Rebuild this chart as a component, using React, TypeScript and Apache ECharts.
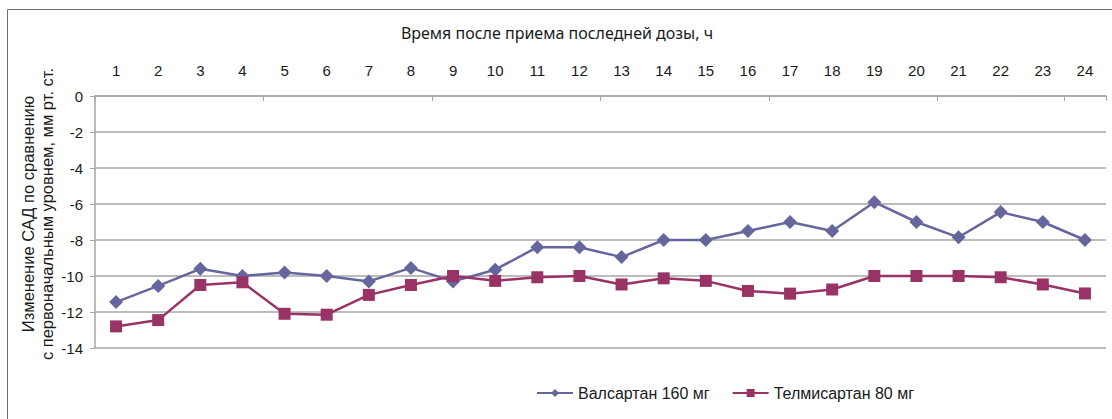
import React, { useEffect, useRef } from "react";
import * as echarts from "echarts";

const hours = ["1","2","3","4","5","6","7","8","9","10","11","12","13","14","15","16","17","18","19","20","21","22","23","24"];
const valsartan = [-11.45,-10.55,-9.6,-10.0,-9.8,-10.0,-10.3,-9.55,-10.3,-9.65,-8.4,-8.4,-8.95,-8.0,-8.0,-7.5,-7.0,-7.5,-5.9,-7.0,-7.85,-6.45,-7.0,-8.0];
const telmisartan = [-12.8,-12.45,-10.5,-10.35,-12.1,-12.15,-11.05,-10.5,-10.0,-10.27,-10.07,-10.0,-10.47,-10.13,-10.27,-10.83,-10.98,-10.75,-10.0,-10.0,-10.0,-10.07,-10.47,-10.97];
const seriesNames = ["Валсартан 160 мг", "Телмисартан 80 мг"];
const xTitle = "Время после приема последней дозы, ч";
const yTitle = "Изменение САД по сравнению\nс первоначальным уровнем, мм рт. ст.";

export default function App() {
  const ref = useRef<HTMLDivElement>(null);
  useEffect(() => {
    if (!ref.current) return;
    const chart = echarts.init(ref.current, null, { renderer: "svg" });
    const tickFont = "Liberation Sans, Arial, sans-serif";
    chart.setOption({
      animation: false,
      backgroundColor: "#ffffff",
      graphic: [
        {
          type: "rect",
          shape: { x: 7.5, y: 9.5, width: 1120, height: 430 },
          style: { fill: "none", stroke: "#707070", lineWidth: 1 },
          silent: true,
        },
        {
          type: "text",
          x: 557,
          y: 33,
          style: {
            text: xTitle,
            fontFamily: "Noto Sans, Open Sans, sans-serif",
            fontSize: 16,
            fill: "#1a1a1a",
            align: "center",
            verticalAlign: "middle",
          },
        },
        {
          type: "text",
          x: 37.5,
          y: 214,
          rotation: Math.PI / 2,
          style: {
            text: yTitle,
            fontFamily: tickFont,
            fontSize: 16.5,
            lineHeight: 19,
            fill: "#1a1a1a",
            align: "center",
            verticalAlign: "middle",
          },
        },
      ],
      legend: {
        left: 531,
        top: 380,
        itemWidth: 36,
        itemHeight: 10,
        itemGap: 22,
        textStyle: { fontFamily: tickFont, fontSize: 16, color: "#1a1a1a" },
        data: seriesNames,
      },
      grid: { left: 95, right: 6, top: 96, bottom: 71, containLabel: false },
      xAxis: {
        type: "category",
        position: "top",
        data: hours,
        boundaryGap: true,
        axisLine: { show: true, lineStyle: { color: "#a6a6a6", width: 1.5 } },
        axisTick: { show: true, inside: true, interval: 3, length: 5, lineStyle: { color: "#a6a6a6" } },
        axisLabel: { interval: 0, margin: 18, fontFamily: tickFont, fontSize: 15, color: "#1a1a1a" },
        splitLine: { show: false },
      },
      yAxis: {
        type: "value",
        min: -14,
        max: 0,
        interval: 2,
        axisLine: { show: true, lineStyle: { color: "#a6a6a6", width: 1.5 } },
        axisTick: { show: true, inside: false, length: 5, lineStyle: { color: "#a6a6a6" } },
        axisLabel: { margin: 12, fontFamily: tickFont, fontSize: 15, color: "#1a1a1a" },
        splitLine: { show: true, lineStyle: { color: "#a6a6a6", width: 1.5 } },
      },
      series: [
        {
          name: seriesNames[0],
          type: "line",
          data: valsartan,
          symbol: "diamond",
          symbolSize: 14,
          lineStyle: { color: "#66669e", width: 2.5 },
          itemStyle: { color: "#66669e" },
        },
        {
          name: seriesNames[1],
          type: "line",
          data: telmisartan,
          symbol: "rect",
          symbolSize: 12,
          lineStyle: { color: "#993366", width: 2.5 },
          itemStyle: { color: "#993366" },
        },
      ],
    });
    return () => chart.dispose();
  }, []);
  return (
    <div
      ref={ref}
      style={{ position: "fixed", left: 0, top: 0, width: 1112, height: 419 }}
    />
  );
}
